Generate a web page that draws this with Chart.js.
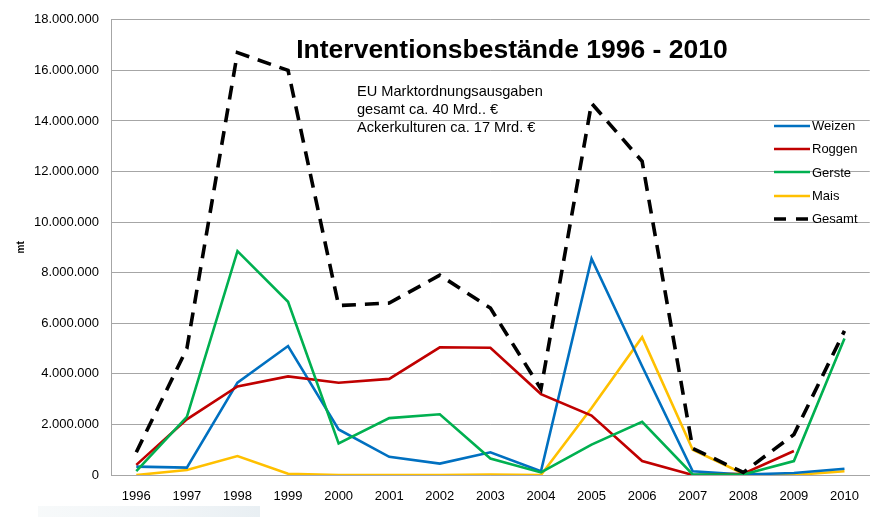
<!DOCTYPE html>
<html lang="de">
<head>
<meta charset="utf-8">
<title>Interventionsbestände 1996 - 2010</title>
<script src="https://cdn.jsdelivr.net/npm/chart.js@4.4.1/dist/chart.umd.min.js"></script>
<style>
  html, body { margin: 0; padding: 0; background: #fff; }
  #wrap { position: relative; width: 873px; height: 517px; font-family: "Liberation Sans", Arial, sans-serif; }
  #grafik { position: absolute; left: 0; top: 0; }
  #titel { position: absolute; left: 262px; width: 500px; top: 36px; text-align: center; font-weight: bold; font-size: 26.5px; line-height: 26.5px; color: #000; white-space: nowrap; }
  #notiz { position: absolute; left: 357px; top: 83px; font-size: 14.6px; line-height: 17.8px; color: #000; white-space: nowrap; }
  #legende { position: absolute; left: 774px; top: 114px; font-size: 13px; color: #000; }
  .zeile { display: flex; align-items: center; height: 23.3px; white-space: nowrap; }
  .zeile canvas { margin-right: 2px; }
  #logo { position: absolute; left: 38px; top: 506px; width: 222px; height: 11px; background: linear-gradient(90deg, #f5f8f9, #edf2f5 60%, #e3ebf0); opacity: 0.8; }
</style>
</head>
<body>
<div id="wrap">
  <canvas id="grafik" width="873" height="517"></canvas>
  <div id="titel">Interventionsbestände 1996 - 2010</div>
  <div id="notiz">EU Marktordnungsausgaben<br>gesamt ca. 40 Mrd.. €<br>Ackerkulturen ca. 17 Mrd. €</div>
  <div id="legende"></div>
  <div id="logo"></div>
</div>
<script>
// Jahre
const jahre = ['1996', '1997', '1998', '1999', '2000', '2001', '2002', '2003', '2004', '2005', '2006', '2007', '2008', '2009', '2010'];

// Bestände in t (mt)
const weizen = [330000, 290000, 3650000, 5100000, 1800000, 720000, 450000, 900000, 150000, 8550000, 4300000, 150000, 20000, 80000, 250000];
const roggen = [400000, 2200000, 3500000, 3900000, 3650000, 3800000, 5050000, 5030000, 3200000, 2350000, 550000, 0, 50000, 950000, null];
const gerste = [150000, 2300000, 8850000, 6850000, 1250000, 2250000, 2400000, 650000, 100000, 1200000, 2100000, 20000, 20000, 550000, 5400000];
const mais = [0, 200000, 750000, 50000, 0, 0, 0, 20000, 0, 2650000, 5450000, 1000000, 50000, 0, 150000];
const gesamt = [900000, 5000000, 16700000, 16000000, 6700000, 6800000, 7900000, 6600000, 3400000, 14700000, 12400000, 1050000, 100000, 1600000, 5700000];

// Achse
const yMax = 18000000;
const yStep = 2000000;

// Tausenderpunkte: 18000000 -> 18.000.000
function formatZahl(v) {
    return String(Math.round(v)).replace(/\B(?=(\d{3})+(?!\d))/g, '.');
}

function linie(label, data, farbe, extra) {
    return Object.assign({
        label: label,
        data: data,
        borderColor: farbe,
        backgroundColor: farbe,
        borderWidth: 2.6,
        pointRadius: 0,
        tension: 0,
        fill: false,
        spanGaps: false
    }, extra || {});
}

const datasets = [
    linie('Gesamt', gesamt, '#000000', { borderWidth: 3.6, borderDash: [14, 9] }),
    linie('Gerste', gerste, '#00B050'),
    linie('Roggen', roggen, '#C00000'),
    linie('Weizen', weizen, '#0070C0'),
    linie('Mais', mais, '#FFC000')
];

const grau = '#a6a6a6';

const chart = new Chart(document.getElementById('grafik'), {
    type: 'line',
    data: { labels: jahre, datasets: datasets },
    options: {
        responsive: false,
        animation: false,
        layout: { padding: { top: 19.5, right: 2, left: 0, bottom: 0 } },
        plugins: { legend: { display: false }, title: { display: false }, tooltip: { enabled: false } },
        scales: {
            x: {
                offset: true,
                grid: { drawOnChartArea: false, drawTicks: false },
                border: { color: grau, width: 1 },
                ticks: { color: '#000', padding: 14, font: { family: 'Liberation Sans', size: 13 }, maxRotation: 0, autoSkip: false },
                afterFit: function(scale) { scale.height = 42; }
            },
            y: {
                min: 0,
                max: yMax,
                grid: { color: grau, lineWidth: 1, drawTicks: false },
                border: { color: grau, width: 1 },
                ticks: {
                    stepSize: yStep,
                    color: '#000',
                    padding: 12,
                    font: { family: 'Liberation Sans', size: 13 },
                    callback: function(value) { return formatZahl(value); }
                },
                title: {
                    display: true,
                    text: 'mt',
                    color: '#000',
                    font: { family: 'Liberation Sans', size: 10, weight: 'bold' },
                    padding: { top: 15, bottom: 0 }
                },
                afterFit: function(scale) { scale.width = 111; }
            }
        }
    }
});

// Legende (Reihenfolge wie im Diagramm)
const legendeReihe = ['Weizen', 'Roggen', 'Gerste', 'Mais', 'Gesamt'];
const legende = document.getElementById('legende');
legendeReihe.forEach(function(name) {
    const ds = chart.data.datasets.find(d => d.label === name);
    const zeile = document.createElement('div');
    zeile.className = 'zeile';
    const c = document.createElement('canvas');
    c.width = 36;
    c.height = 8;
    const ctx = c.getContext('2d');
    ctx.strokeStyle = ds.borderColor;
    ctx.lineWidth = ds.borderWidth;
    if (ds.borderDash) ctx.setLineDash([12, 10]);
    ctx.beginPath();
    ctx.moveTo(0, 4);
    ctx.lineTo(36, 4);
    ctx.stroke();
    zeile.appendChild(c);
    const t = document.createElement('span');
    t.textContent = name;
    zeile.appendChild(t);
    legende.appendChild(zeile);
});
</script>
</body>
</html>
